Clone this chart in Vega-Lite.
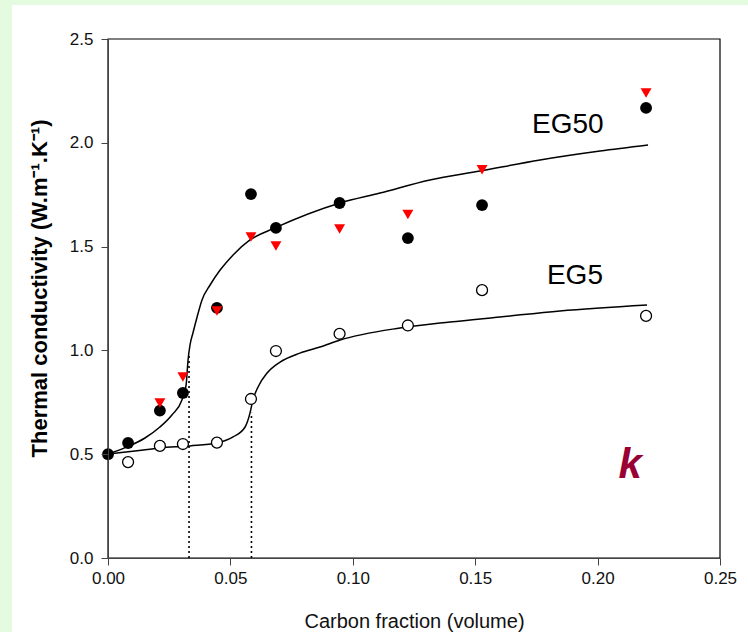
{
  "$schema": "https://vega.github.io/schema/vega-lite/v6.json",
  "width": 612,
  "height": 519,
  "autosize": {"type": "none"},
  "padding": {"left": 108, "top": 39, "right": 28, "bottom": 74},
  "background": "#e4fbe0",
  "config": {"view": {"stroke": null}, "font": "Liberation Sans"},
  "datasets": {
    "one": [{}],
    "pts": [
      {"x": 0, "y": 0.5, "s": "filled"},
      {"x": 0.0082, "y": 0.554, "s": "filled"},
      {"x": 0.0212, "y": 0.71, "s": "filled"},
      {"x": 0.0306, "y": 0.795, "s": "filled"},
      {"x": 0.0445, "y": 1.205, "s": "filled"},
      {"x": 0.0584, "y": 1.753, "s": "filled"},
      {"x": 0.0686, "y": 1.59, "s": "filled"},
      {"x": 0.0946, "y": 1.71, "s": "filled"},
      {"x": 0.1225, "y": 1.541, "s": "filled"},
      {"x": 0.1528, "y": 1.7, "s": "filled"},
      {"x": 0.2198, "y": 2.168, "s": "filled"},
      {"x": 0.0212, "y": 0.747, "s": "red"},
      {"x": 0.0306, "y": 0.872, "s": "red"},
      {"x": 0.0445, "y": 1.19, "s": "red"},
      {"x": 0.0584, "y": 1.546, "s": "red"},
      {"x": 0.0686, "y": 1.503, "s": "red"},
      {"x": 0.0946, "y": 1.585, "s": "red"},
      {"x": 0.1225, "y": 1.655, "s": "red"},
      {"x": 0.1528, "y": 1.87, "s": "red"},
      {"x": 0.2198, "y": 2.24, "s": "red"},
      {"x": 0.0082, "y": 0.462, "s": "open"},
      {"x": 0.0212, "y": 0.54, "s": "open"},
      {"x": 0.0306, "y": 0.549, "s": "open"},
      {"x": 0.0445, "y": 0.556, "s": "open"},
      {"x": 0.0584, "y": 0.766, "s": "open"},
      {"x": 0.0686, "y": 0.997, "s": "open"},
      {"x": 0.0946, "y": 1.08, "s": "open"},
      {"x": 0.1225, "y": 1.12, "s": "open"},
      {"x": 0.1528, "y": 1.29, "s": "open"},
      {"x": 0.2198, "y": 1.166, "s": "open"}
    ],
    "curves": [
      {"x": 0, "y": 0.501, "c": "EG50"},
      {"x": 0.00776, "y": 0.535, "c": "EG50"},
      {"x": 0.0151, "y": 0.578, "c": "EG50"},
      {"x": 0.0212, "y": 0.631, "c": "EG50"},
      {"x": 0.0261, "y": 0.689, "c": "EG50"},
      {"x": 0.0302, "y": 0.761, "c": "EG50"},
      {"x": 0.0319, "y": 0.833, "c": "EG50"},
      {"x": 0.0327, "y": 0.954, "c": "EG50"},
      {"x": 0.0335, "y": 1.026, "c": "EG50"},
      {"x": 0.0347, "y": 1.084, "c": "EG50"},
      {"x": 0.0364, "y": 1.161, "c": "EG50"},
      {"x": 0.0384, "y": 1.243, "c": "EG50"},
      {"x": 0.0417, "y": 1.315, "c": "EG50"},
      {"x": 0.0458, "y": 1.387, "c": "EG50"},
      {"x": 0.0511, "y": 1.46, "c": "EG50"},
      {"x": 0.058, "y": 1.532, "c": "EG50"},
      {"x": 0.0682, "y": 1.59, "c": "EG50"},
      {"x": 0.0948, "y": 1.71, "c": "EG50"},
      {"x": 0.1111, "y": 1.758, "c": "EG50"},
      {"x": 0.1315, "y": 1.821, "c": "EG50"},
      {"x": 0.152, "y": 1.864, "c": "EG50"},
      {"x": 0.1765, "y": 1.917, "c": "EG50"},
      {"x": 0.201, "y": 1.96, "c": "EG50"},
      {"x": 0.2206, "y": 1.989, "c": "EG50"},
      {"x": 0, "y": 0.501, "c": "EG5"},
      {"x": 0.011, "y": 0.515, "c": "EG5"},
      {"x": 0.0212, "y": 0.53, "c": "EG5"},
      {"x": 0.0335, "y": 0.54, "c": "EG5"},
      {"x": 0.0445, "y": 0.554, "c": "EG5"},
      {"x": 0.0511, "y": 0.583, "c": "EG5"},
      {"x": 0.056, "y": 0.631, "c": "EG5"},
      {"x": 0.058, "y": 0.698, "c": "EG5"},
      {"x": 0.0592, "y": 0.761, "c": "EG5"},
      {"x": 0.0613, "y": 0.824, "c": "EG5"},
      {"x": 0.065, "y": 0.891, "c": "EG5"},
      {"x": 0.0703, "y": 0.944, "c": "EG5"},
      {"x": 0.0784, "y": 0.987, "c": "EG5"},
      {"x": 0.0866, "y": 1.016, "c": "EG5"},
      {"x": 0.0948, "y": 1.05, "c": "EG5"},
      {"x": 0.1193, "y": 1.108, "c": "EG5"},
      {"x": 0.1397, "y": 1.137, "c": "EG5"},
      {"x": 0.1601, "y": 1.161, "c": "EG5"},
      {"x": 0.1846, "y": 1.19, "c": "EG5"},
      {"x": 0.2202, "y": 1.219, "c": "EG5"}
    ],
    "drops": [
      {"x": 0.0331, "y": 0, "y2": 0.987},
      {"x": 0.0586, "y": 0, "y2": 0.7}
    ]
  },
  "layer": [
    {
      "data": {"name": "one"},
      "mark": {"type": "rect", "fill": "white", "clip": false},
      "encoding": {
        "x": {"datum": -0.0392, "type": "quantitative",
          "scale": {"domain": [0, 0.25], "nice": false, "zero": false},
          "axis": {"title": "Carbon fraction (volume)", "values": [0, 0.05, 0.1, 0.15, 0.2, 0.25], "format": ".2f", "grid": false, "labelFlush": false,
            "tickSize": 7, "labelFontSize": 17, "labelPadding": 5, "labelColor": "#111", "domainColor": "#444", "tickColor": "#444",
            "titleFontSize": 20, "titleFontWeight": "normal", "titleColor": "#111", "titleBaseline": "middle", "titleY": 63, "zindex": 1}},
        "x2": {"datum": 0.2614},
        "y": {"datum": -0.356, "type": "quantitative",
          "scale": {"domain": [0, 2.5], "nice": false, "zero": false},
          "axis": {"title": "Thermal conductivity (W.m⁻¹.K⁻¹)", "values": [0, 0.5, 1, 1.5, 2, 2.5], "format": ".1f", "grid": false, "labelFlush": false,
            "tickSize": 7, "labelFontSize": 17, "labelPadding": 8, "labelColor": "#111", "domainColor": "#444", "tickColor": "#444",
            "titleFontSize": 22, "titleFontWeight": "bold", "titleColor": "#000", "titleBaseline": "middle", "titleAlign": "center",
            "titleAngle": 270, "titleX": -69, "titleY": 249, "zindex": 1}},
        "y2": {"datum": 2.664}
      }
    },
    {
      "data": {"name": "one"},
      "mark": {"type": "rect", "fill": null, "stroke": "black", "strokeWidth": 1.2},
      "encoding": {
        "x": {"datum": 0, "type": "quantitative"},
        "x2": {"datum": 0.25},
        "y": {"datum": 0, "type": "quantitative"},
        "y2": {"datum": 2.5}
      }
    },
    {
      "data": {"name": "drops"},
      "mark": {"type": "rule", "color": "black", "strokeWidth": 1.6, "strokeDash": [2, 3]},
      "encoding": {
        "x": {"field": "x", "type": "quantitative"},
        "y": {"field": "y", "type": "quantitative"},
        "y2": {"field": "y2"}
      }
    },
    {
      "data": {"name": "curves"},
      "mark": {"type": "line", "color": "black", "strokeWidth": 1.5, "interpolate": "monotone"},
      "encoding": {
        "x": {"field": "x", "type": "quantitative"},
        "y": {"field": "y", "type": "quantitative"},
        "detail": {"field": "c"}
      }
    },
    {
      "data": {"name": "pts"},
      "transform": [{"filter": "datum.s === 'open'"}],
      "mark": {"type": "point", "shape": "circle", "filled": true, "fill": "white", "stroke": "black", "strokeWidth": 1.3, "size": 120, "opacity": 1},
      "encoding": {
        "x": {"field": "x", "type": "quantitative"},
        "y": {"field": "y", "type": "quantitative"}
      }
    },
    {
      "data": {"name": "pts"},
      "transform": [{"filter": "datum.s === 'filled'"}],
      "mark": {"type": "point", "shape": "circle", "filled": true, "color": "black", "size": 140, "opacity": 1},
      "encoding": {
        "x": {"field": "x", "type": "quantitative"},
        "y": {"field": "y", "type": "quantitative"}
      }
    },
    {
      "data": {"name": "pts"},
      "transform": [{"filter": "datum.s === 'red'"}],
      "mark": {"type": "point", "shape": "triangle-down", "filled": true, "color": "#ff0000", "size": 120, "opacity": 1},
      "encoding": {
        "x": {"field": "x", "type": "quantitative"},
        "y": {"field": "y", "type": "quantitative"}
      }
    },
    {
      "data": {"name": "one"},
      "mark": {"type": "text", "text": "EG50", "fontSize": 28, "align": "left", "baseline": "alphabetic", "color": "black"},
      "encoding": {
        "x": {"datum": 0.1732, "type": "quantitative"},
        "y": {"datum": 2.047, "type": "quantitative"}
      }
    },
    {
      "data": {"name": "one"},
      "mark": {"type": "text", "text": "EG5", "fontSize": 28, "align": "left", "baseline": "alphabetic", "color": "black"},
      "encoding": {
        "x": {"datum": 0.1793, "type": "quantitative"},
        "y": {"datum": 1.32, "type": "quantitative"}
      }
    },
    {
      "data": {"name": "one"},
      "mark": {"type": "text", "text": "k", "fontSize": 42, "fontWeight": "bold", "fontStyle": "italic", "align": "left", "baseline": "alphabetic", "color": "#990033"},
      "encoding": {
        "x": {"datum": 0.2085, "type": "quantitative"},
        "y": {"datum": 0.385, "type": "quantitative"}
      }
    }
  ]
}
